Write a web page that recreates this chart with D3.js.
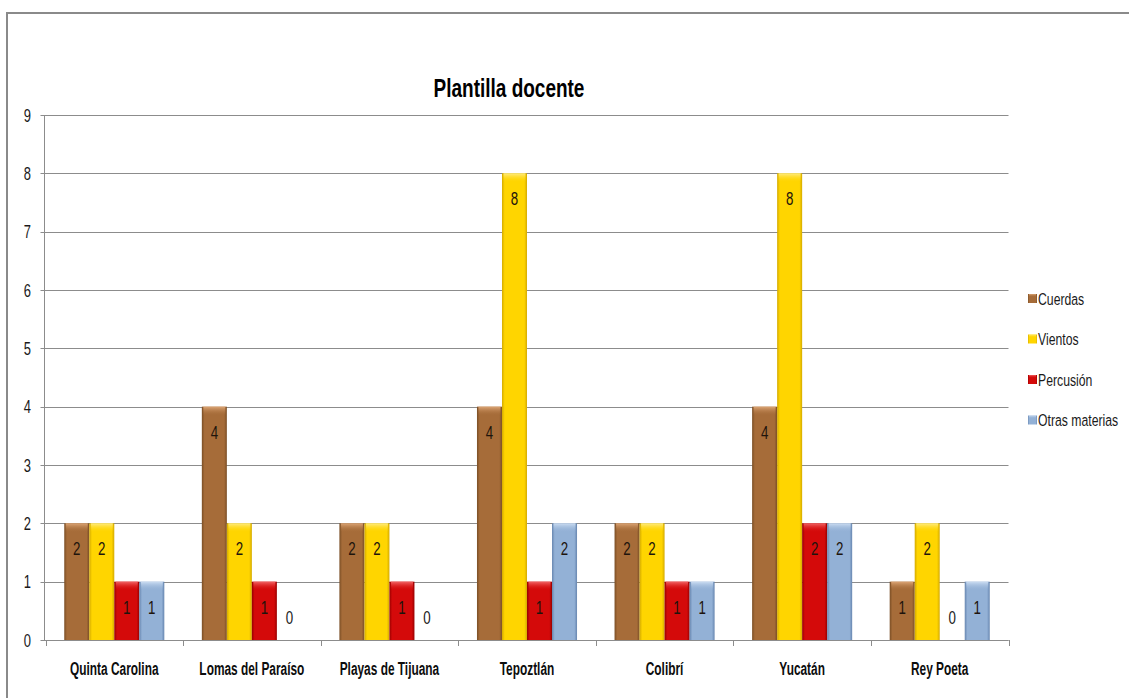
<!DOCTYPE html>
<html><head><meta charset="utf-8">
<script src="https://cdn.jsdelivr.net/npm/d3@7"></script>
<style>
html,body{margin:0;padding:0;background:#fff;overflow:hidden;}
text{font-family:"Liberation Sans",Arial,sans-serif;}
</style></head>
<body><svg id="c" width="1129" height="698"></svg>
<script>
const categories = ["Quinta Carolina","Lomas del Paraíso","Playas de Tijuana","Tepoztlán","Colibrí","Yucatán","Rey Poeta"];
const seriesNames = ["Cuerdas","Vientos","Percusión","Otras materias"];
const cuerdas = [2,4,2,4,2,4,1];
const vientos = [2,2,2,8,2,8,2];
const percusion = [1,1,1,1,1,2,0];
const otras = [1,0,0,2,1,2,1];
const yTicks = [0,1,2,3,4,5,6,7,8,9];
const title = "Plantilla docente";

(function(){
const seriesValues = [cuerdas, vientos, percusion, otras];
const colors = [
  {face:"#A66C39", edge:"#7A4E25", top:"#DDA676"},
  {face:"#FFD500", edge:"#D4AA00", top:"#FFEC85"},
  {face:"#D40A0A", edge:"#980000", top:"#F26666"},
  {face:"#93B1D6", edge:"#6786B0", top:"#CCDDF2"}
];
const SX = 0.74; // horizontal compression to mimic a condensed font

const svg = d3.select("#c");
const defs = svg.append("defs");
colors.forEach((c,i)=>{
  const g = defs.append("linearGradient").attr("id","h"+i).attr("x1","0").attr("x2","1").attr("y1","0").attr("y2","0");
  g.append("stop").attr("offset","0").attr("stop-color",c.edge);
  g.append("stop").attr("offset","0.11").attr("stop-color",c.face);
  g.append("stop").attr("offset","0.89").attr("stop-color",c.face);
  g.append("stop").attr("offset","1").attr("stop-color",c.edge);
  const t = defs.append("linearGradient").attr("id","t"+i).attr("x1","0").attr("x2","0").attr("y1","0").attr("y2","1");
  t.append("stop").attr("offset","0").attr("stop-color",c.top);
  t.append("stop").attr("offset","1").attr("stop-color",c.face).attr("stop-opacity",0);
});

function ctext(parent, px, py, str, size, opts){
  opts = opts || {};
  const g = parent.append("g").attr("transform",`translate(${px},${py}) scale(${opts.sx||SX},1)`);
  return g.append("text").attr("x",0).attr("y",0)
    .attr("text-anchor",opts.anchor||"middle")
    .attr("font-size",size)
    .attr("font-weight",opts.bold?"bold":"normal")
    .attr("fill",opts.fill||"#1a1a1a")
    .text(str);
}

// frame
svg.append("rect").attr("x",7).attr("y",13).attr("width",1200).attr("height",800)
  .attr("fill","none").attr("stroke","#8a8a8a").attr("stroke-width",2);

const pl = 45.5, pr = 1008.5, pt = 115, pb = 640;
const x = d3.scaleBand().domain(categories).range([pl,pr]).paddingInner(1.5/5.5).paddingOuter(0.75/5.5);
const xs = d3.scaleBand().domain(seriesNames).range([0,x.bandwidth()]);
const y = d3.scaleLinear().domain([0,9]).range([pb,pt]);

// gridlines
svg.append("g").selectAll("line").data(yTicks).join("line")
  .attr("x1",pl-5).attr("x2",pr).attr("y1",d=>Math.round(y(d))+0.5).attr("y2",d=>Math.round(y(d))+0.5)
  .attr("stroke","#8c8c8c").attr("stroke-width",1);

// y axis (line via d3 axis, labels compressed)
const ya = svg.append("g").attr("transform",`translate(${pl-1.5},0)`)
  .call(d3.axisLeft(y).tickValues(yTicks).tickSize(0).tickFormat(""));
ya.select(".domain").attr("stroke","#8c8c8c");
yTicks.forEach(t=>{
  ctext(svg, 31, y(t)+6.5, String(t), 18, {anchor:"end", fill:"#1a1a1a", sx:0.72});
});

// x axis ticks at category boundaries
const step = x.step();
const bounds = d3.range(categories.length+1).map(i=>pl+i*step);
svg.append("g").selectAll("line").data(bounds).join("line")
  .attr("x1",d=>Math.round(d)+0.5).attr("x2",d=>Math.round(d)+0.5)
  .attr("y1",pb).attr("y2",pb+6).attr("stroke","#8c8c8c");
svg.append("line").attr("x1",pl).attr("x2",pr).attr("y1",pb+0.5).attr("y2",pb+0.5).attr("stroke","#8c8c8c");

categories.forEach(c=>{
  ctext(svg, x(c)+x.bandwidth()/2, pb+35, c, 18, {bold:true, fill:"#0d0d0d", sx:0.66});
});

// bars
seriesNames.forEach((s,si)=>{
  const g = svg.append("g");
  categories.forEach((cat,ci)=>{
    const v = seriesValues[si][ci];
    const bx = x(cat)+xs(s);
    const bw = xs.bandwidth();
    const by = y(v);
    const bh = pb - by;
    if (v>0){
      g.append("rect").attr("x",bx).attr("y",by).attr("width",bw).attr("height",bh)
        .attr("fill",`url(#h${si})`);
      g.append("rect").attr("x",bx+1.5).attr("y",by).attr("width",bw-3).attr("height",Math.min(9,bh))
        .attr("fill",`url(#t${si})`);
      ctext(g, bx+bw/2, by+32, String(v), 18.5, {fill:"#1e140c", sx:0.72});
    } else {
      ctext(g, bx+bw/2, pb-16, String(v), 18.5, {fill:"#1a1a1a", sx:0.72});
    }
  });
});

// title
ctext(svg, 509, 97, title, 25, {bold:true, fill:"#000", sx:0.76});

// legend
const lg = svg.append("g");
seriesNames.forEach((s,i)=>{
  const ly = 298 + i*40.5;
  lg.append("rect").attr("x",1028).attr("y",ly-4).attr("width",9).attr("height",9).attr("fill",`url(#h${i})`);
  lg.append("rect").attr("x",1029).attr("y",ly-4).attr("width",7).attr("height",3).attr("fill",`url(#t${i})`);
  ctext(lg, 1038, ly+6.5, s, 17, {anchor:"start", fill:"#1a1a1a", sx:0.72});
});
})();
</script></body></html>
